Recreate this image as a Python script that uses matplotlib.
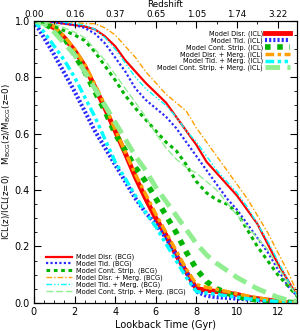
import matplotlib
matplotlib.use("Agg")
import matplotlib.pyplot as plt
import numpy as np

# Lookback time grid (Gyr)
t = [0, 0.5, 1, 1.5, 2, 2.5, 3, 3.5, 4, 4.5, 5, 5.5, 6, 6.5, 7, 7.5, 8, 8.5, 9, 9.5,
     10, 10.5, 11, 11.5, 12, 12.5, 13]

# ICL(z)/ICL(z=0)
icl_disr = [1.0, 0.995, 0.975, 0.94, 0.895, 0.84, 0.765, 0.69, 0.61, 0.53, 0.445, 0.37, 0.30,
            0.24, 0.17, 0.11, 0.05, 0.045, 0.04, 0.035, 0.03, 0.02, 0.015, 0.01, 0.005, 0.0, 0.0]
icl_tid = [1.0, 0.94, 0.88, 0.815, 0.75, 0.68, 0.61, 0.55, 0.49, 0.43, 0.37, 0.32, 0.28,
           0.23, 0.17, 0.11, 0.04, 0.025, 0.02, 0.018, 0.015, 0.012, 0.01, 0.007, 0.005, 0.002, 0.0]
icl_cont = [1.0, 0.99, 0.97, 0.94, 0.88, 0.82, 0.75, 0.68, 0.60, 0.54, 0.48, 0.43, 0.37,
            0.31, 0.25, 0.18, 0.12, 0.075, 0.05, 0.035, 0.022, 0.016, 0.01, 0.007, 0.005, 0.002, 0.0]
icl_disr_m = [1.0, 0.995, 0.98, 0.945, 0.90, 0.845, 0.775, 0.70, 0.615, 0.535, 0.455, 0.385, 0.315,
              0.25, 0.185, 0.12, 0.065, 0.055, 0.048, 0.04, 0.032, 0.025, 0.018, 0.012, 0.006, 0.002, 0.0]
icl_tid_m = [1.0, 0.96, 0.91, 0.86, 0.80, 0.73, 0.66, 0.58, 0.50, 0.44, 0.38, 0.32, 0.27,
             0.21, 0.15, 0.09, 0.04, 0.035, 0.03, 0.025, 0.02, 0.015, 0.01, 0.007, 0.005, 0.002, 0.0]
icl_cont_m = [1.0, 0.99, 0.96, 0.92, 0.88, 0.82, 0.76, 0.70, 0.64, 0.58, 0.52, 0.47, 0.41,
              0.36, 0.31, 0.26, 0.21, 0.17, 0.14, 0.115, 0.09, 0.07, 0.05, 0.035, 0.02, 0.01, 0.005]

# M_BCG(z)/M_BCG(z=0)
bcg_disr = [1.0, 1.0, 0.995, 0.99, 0.985, 0.98, 0.97, 0.945, 0.91, 0.86, 0.82, 0.78, 0.745,
            0.71, 0.66, 0.61, 0.56, 0.50, 0.46, 0.42, 0.38, 0.33, 0.28, 0.21, 0.14, 0.08, 0.02]
bcg_tid = [1.0, 1.0, 0.995, 0.99, 0.985, 0.975, 0.955, 0.92, 0.87, 0.82, 0.76, 0.72, 0.69,
           0.66, 0.62, 0.57, 0.52, 0.47, 0.42, 0.37, 0.33, 0.28, 0.23, 0.18, 0.12, 0.06, 0.02]
bcg_cont = [1.0, 0.995, 0.98, 0.965, 0.95, 0.93, 0.89, 0.84, 0.79, 0.735, 0.69, 0.65, 0.61,
            0.57, 0.54, 0.49, 0.43, 0.39, 0.365, 0.35, 0.32, 0.26, 0.20, 0.15, 0.10, 0.06, 0.02]
bcg_disr_m = [1.0, 1.0, 1.0, 0.998, 0.995, 0.99, 0.99, 0.975, 0.95, 0.91, 0.87, 0.82, 0.78,
              0.74, 0.71, 0.68, 0.62, 0.57, 0.52, 0.47, 0.42, 0.37, 0.31, 0.25, 0.18, 0.11, 0.03]
bcg_tid_m = [1.0, 1.0, 0.998, 0.995, 0.99, 0.985, 0.97, 0.94, 0.90, 0.85, 0.80, 0.76, 0.73,
             0.70, 0.66, 0.61, 0.57, 0.52, 0.47, 0.43, 0.39, 0.34, 0.28, 0.22, 0.15, 0.08, 0.02]
bcg_cont_m = [1.0, 0.995, 0.99, 0.975, 0.96, 0.94, 0.90, 0.86, 0.81, 0.76, 0.71, 0.66, 0.60,
              0.55, 0.51, 0.48, 0.46, 0.43, 0.40, 0.355, 0.31, 0.27, 0.23, 0.19, 0.13, 0.07, 0.02]

x_ticks = [0, 2, 4, 6, 8, 10, 12]
z_labels = ["0.00", "0.16", "0.37", "0.65", "1.05", "1.74", "3.22"]

RED = "#ff0000"
BLUE = "#2a2aff"
GREEN = "#00b400"
ORANGE = "#ffa000"
CYAN = "#00ffff"
LGREEN = "#90ee90"

fig = plt.figure(figsize=(3.0, 3.31), dpi=100)
ax_left, ax_bottom, ax_w, ax_h = 0.113, 0.085, 0.877, 0.852
ax = fig.add_axes([ax_left, ax_bottom, ax_w, ax_h])

# BCG (thin)
bcg_specs = [
    (bcg_disr, RED, "-", 1.6, "Model Disr. (BCG)"),
    (bcg_tid, BLUE, (0, (1, 1)), 1.6, "Model Tid. (BCG)"),
    (bcg_cont, GREEN, (0, (1.2, 1.2)), 2.2, "Model Cont. Strip. (BCG)"),
    (bcg_disr_m, ORANGE, (0, (4, 1.5, 1, 1.5)), 1.0, "Model Disr. + Merg. (BCG)"),
    (bcg_tid_m, CYAN, (0, (4, 1.5, 1, 1.5, 1, 1.5)), 1.0, "Model Tid. + Merg. (BCG)"),
    (bcg_cont_m, LGREEN, (0, (5, 2)), 1.0, "Model Cont. Strip. + Merg. (BCG)"),
]
icl_specs = [
    (icl_disr, RED, "-", 3.5, "Model Disr. (ICL)"),
    (icl_tid, BLUE, (0, (0.5, 0.5)), 3.0, "Model Tid. (ICL)"),
    (icl_cont, GREEN, (0, (1.0, 1.2)), 4.0, "Model Cont. Strip. (ICL)"),
    (icl_disr_m, ORANGE, (0, (2.5, 1, 1, 1)), 2.5, "Model Disr. + Merg. (ICL)"),
    (icl_tid_m, CYAN, (0, (2.5, 1, 1, 1, 1, 1)), 2.5, "Model Tid. + Merg. (ICL)"),
    (icl_cont_m, LGREEN, (0, (3, 1.5)), 3.5, "Model Cont. Strip. + Merg. (ICL)"),
]

h_icl = []
for y, c, ls, lw, lab in icl_specs:
    ln, = ax.plot(t, y, color=c, ls=ls, lw=lw, label=lab, dash_capstyle="butt")
    h_icl.append(ln)
h_bcg = []
for y, c, ls, lw, lab in bcg_specs:
    ln, = ax.plot(t, y, color=c, ls=ls, lw=lw, label=lab, dash_capstyle="butt")
    h_bcg.append(ln)

ax.set_xlim(0, 12.95)
ax.set_ylim(0, 1.0)
ax.set_xticks(x_ticks)
ax.set_xticks(np.arange(0, 13, 0.5), minor=True)
ax.set_yticks([0, 0.2, 0.4, 0.6, 0.8, 1.0])
ax.set_yticklabels(["0.0", "0.2", "0.4", "0.6", "0.8", "1.0"])
ax.set_yticks(np.arange(0, 1.0001, 0.05), minor=True)
ax.tick_params(which="both", direction="in", right=True, labelsize=7, pad=3)
ax.tick_params(which="major", length=5)
ax.tick_params(which="minor", length=2.5)
ax.tick_params(axis="x", top=False)
ax.set_xlabel("Lookback Time (Gyr)", fontsize=7, labelpad=2)
ax.set_ylabel(r"ICL(z)/ICL(z=0)    M$_{\rm BCG}$(z)/M$_{\rm BCG}$(z=0)", fontsize=6.2, labelpad=1)

ax2 = ax.twiny()
ax2.set_xlim(ax.get_xlim())
ax2.set_xticks(x_ticks)
ax2.set_xticklabels(z_labels)
ax2.set_xticks(np.arange(1, 13, 1), minor=True)
ax2.tick_params(which="both", direction="in", labelsize=6.3, pad=1)
ax2.tick_params(which="major", length=5)
ax2.tick_params(which="minor", length=2.5)
fig.text(ax_left + ax_w / 2, 0.999, "Redshift", fontsize=6.3, ha="center", va="top")

leg1 = ax.legend(handles=h_icl, loc="upper right", bbox_to_anchor=(0.985, 0.975),
                 fontsize=4.8, frameon=False, markerfirst=False, handlelength=3.8,
                 handletextpad=0.3, labelspacing=0.05, borderaxespad=0)
for txt in leg1.get_texts():
    txt.set_ha("right")
ax.add_artist(leg1)
leg2 = ax.legend(handles=h_bcg, loc="lower left", bbox_to_anchor=(0.035, 0.02),
                 fontsize=4.8, frameon=False, handlelength=4.0,
                 handletextpad=0.5, labelspacing=0.05, borderaxespad=0)

fig.savefig("out.png", dpi=100)
